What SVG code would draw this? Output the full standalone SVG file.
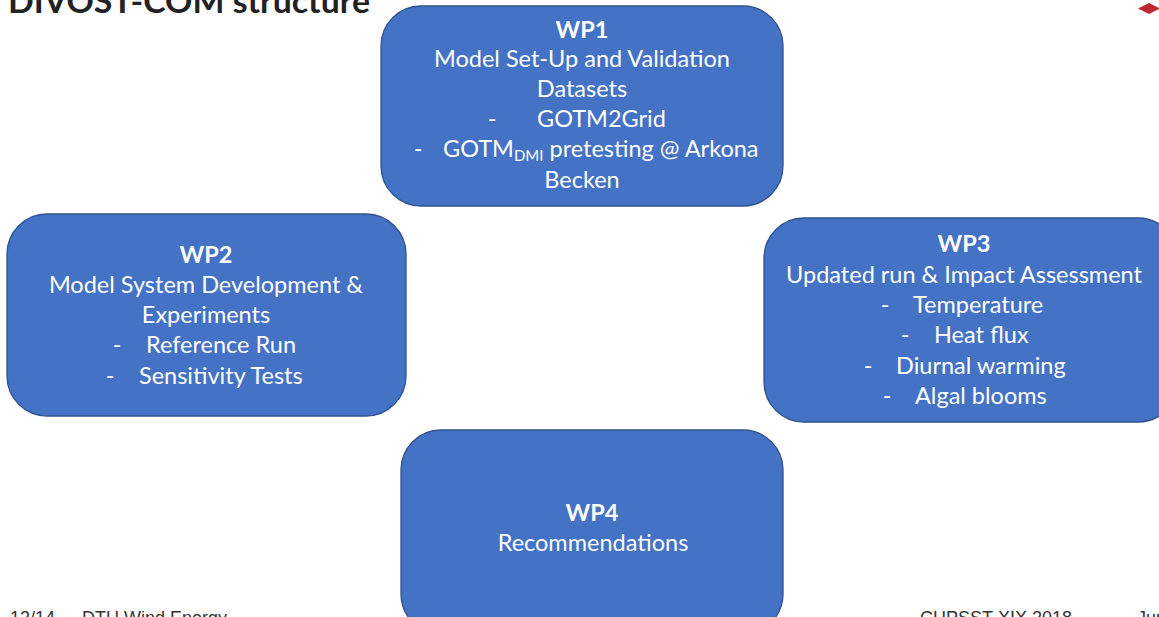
<svg xmlns="http://www.w3.org/2000/svg" width="1159" height="617" viewBox="0 0 1159 617">
<style>
.box{fill:#4472C4;stroke:#2F528F;stroke-width:1.3}
.t{font-family:Lato,"Open Sans","Liberation Sans",sans-serif;font-size:23.5px;fill:#FFFFFF;text-anchor:middle}
.s{font-family:Lato,"Open Sans","Liberation Sans",sans-serif;font-size:23.5px;fill:#FFFFFF;text-anchor:start}
.b{font-weight:bold}
.foot{font-family:"Liberation Sans",sans-serif;font-size:18px;fill:#333333}
</style>
<rect width="1159" height="617" fill="#FFFFFF"/>
<text x="8" y="13" font-family="Lato,Liberation Sans,sans-serif" font-size="33" font-weight="bold" fill="#222222" textLength="362" lengthAdjust="spacingAndGlyphs">DIVOST-COM structure</text>
<polygon points="1138,8.5 1149,3 1160,8.5 1149,14" fill="#C0282F"/>
<g id="connectors"/>
<g id="wp1">
<rect class="box" x="381" y="6" width="402" height="200" rx="40" ry="40"/>
<text class="t b" x="582" y="38">WP1</text>
<text class="t" x="582" y="67">Model Set-Up and Validation</text>
<text class="t" x="582" y="97">Datasets</text>
<text class="t" x="492" y="127">-</text>
<text class="s" x="537" y="127">GOTM2Grid</text>
<text class="t" x="418" y="157">-</text>
<text class="s" x="443" y="157">GOTM<tspan font-size="15" dy="4">DMI</tspan><tspan dy="-4"> pretesting @ Arkona</tspan></text>
<text class="t" x="582" y="188">Becken</text>
</g>
<g id="wp2">
<rect class="box" x="7" y="214" width="399" height="202" rx="40" ry="40"/>
<text class="t b" x="206" y="263">WP2</text>
<text class="t" x="206" y="293">Model System Development &amp;</text>
<text class="t" x="206" y="323">Experiments</text>
<text class="t" x="117" y="353">-</text>
<text class="s" x="146" y="353">Reference Run</text>
<text class="t" x="110" y="384">-</text>
<text class="s" x="139" y="384">Sensitivity Tests</text>
</g>
<g id="wp3">
<rect class="box" x="764" y="218" width="414" height="204" rx="40" ry="40"/>
<text class="t b" x="964" y="252">WP3</text>
<text class="t" x="964" y="283">Updated run &amp; Impact Assessment</text>
<text class="t" x="885" y="313">-</text>
<text class="s" x="913" y="313">Temperature</text>
<text class="t" x="905" y="343">-</text>
<text class="s" x="934" y="343">Heat flux</text>
<text class="t" x="868" y="374">-</text>
<text class="s" x="896" y="374">Diurnal warming</text>
<text class="t" x="887" y="404">-</text>
<text class="s" x="915" y="404">Algal blooms</text>
</g>
<g id="wp4">
<rect class="box" x="401" y="430" width="382" height="204" rx="40" ry="40"/>
<text class="t b" x="592" y="521">WP4</text>
<text class="t" x="593" y="551">Recommendations</text>
</g>
<text class="foot" x="10" y="624">12/14</text>
<text class="foot" x="82" y="624">DTU Wind Energy</text>
<text class="foot" x="920" y="624">CHPSST-XIX 2018</text>
<text class="foot" x="1137" y="624">Jun</text>
</svg>
